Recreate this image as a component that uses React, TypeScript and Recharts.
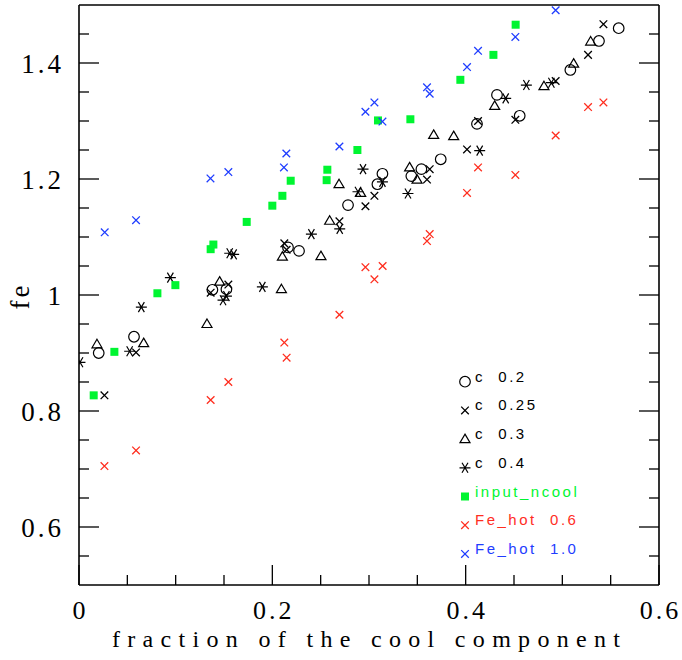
import React from 'react';
import { ScatterChart, Scatter, XAxis, YAxis, Legend } from 'recharts';

// [fraction of cool component, fe]
const c02 = [
  [0.0204, 0.9], [0.0569, 0.928], [0.138, 1.009], [0.1525, 1.01], [0.2162, 1.082], [0.2276, 1.076],
  [0.2783, 1.155], [0.3087, 1.191], [0.3139, 1.209], [0.3438, 1.205], [0.3542, 1.217], [0.3742, 1.234],
  [0.4117, 1.295], [0.4324, 1.345], [0.4559, 1.309], [0.5083, 1.388], [0.5379, 1.438], [0.5583, 1.46],
];
const c025 = [
  [0.0263, 0.827], [0.059, 0.901], [0.1362, 1.004], [0.1545, 1.018], [0.2124, 1.089], [0.2148, 1.078],
  [0.2694, 1.127], [0.2963, 1.153], [0.3056, 1.171], [0.36, 1.199], [0.3628, 1.217], [0.4014, 1.251],
  [0.4128, 1.3], [0.4514, 1.302], [0.4931, 1.369], [0.5266, 1.414], [0.5425, 1.467],
];
const c03 = [
  [0.0186, 0.915], [0.0669, 0.917], [0.1324, 0.95], [0.1455, 1.023], [0.2094, 1.01], [0.2104, 1.066],
  [0.2503, 1.067], [0.2593, 1.128], [0.269, 1.191], [0.2914, 1.176], [0.342, 1.22], [0.3497, 1.199],
  [0.3669, 1.276], [0.3876, 1.274], [0.43, 1.326], [0.481, 1.36], [0.5117, 1.399], [0.5293, 1.437],
];
const c04 = [
  [0.001, 0.884], [0.0524, 0.903], [0.0645, 0.979], [0.0945, 1.03], [0.149, 0.991], [0.1525, 0.998],
  [0.1559, 1.072], [0.16, 1.07], [0.1897, 1.014], [0.2404, 1.105], [0.2697, 1.114], [0.2886, 1.178],
  [0.2938, 1.217], [0.3139, 1.195], [0.3403, 1.175], [0.4145, 1.249], [0.4414, 1.339], [0.4628, 1.362],
  [0.4887, 1.366],
];
const inputNcool = [
  [0.0152, 0.827], [0.0366, 0.902], [0.0811, 1.003], [0.0997, 1.017], [0.1362, 1.079], [0.139, 1.087],
  [0.1735, 1.126], [0.2, 1.154], [0.2104, 1.171], [0.219, 1.197], [0.2562, 1.198], [0.2569, 1.216],
  [0.288, 1.25], [0.3093, 1.301], [0.3428, 1.303], [0.3945, 1.371], [0.4287, 1.414], [0.4517, 1.466],
];
const feHot06 = [
  [0.0263, 0.705], [0.059, 0.732], [0.1362, 0.819], [0.1545, 0.85], [0.2124, 0.918], [0.2148, 0.892],
  [0.2694, 0.966], [0.2963, 1.048], [0.3056, 1.027], [0.3141, 1.05], [0.36, 1.093], [0.3628, 1.105],
  [0.4014, 1.176], [0.4128, 1.22], [0.4514, 1.207], [0.4931, 1.275], [0.5266, 1.324], [0.5425, 1.332],
];
const feHot10 = [
  [0.0266, 1.108], [0.059, 1.129], [0.136, 1.201], [0.1545, 1.212], [0.212, 1.22], [0.2145, 1.244],
  [0.2694, 1.256], [0.2963, 1.316], [0.3056, 1.332], [0.3139, 1.299], [0.36, 1.358], [0.3628, 1.347],
  [0.4014, 1.393], [0.4128, 1.421], [0.4514, 1.445], [0.4931, 1.491],
];

const xTicks = [0, 0.05, 0.1, 0.15, 0.2, 0.25, 0.3, 0.35, 0.4, 0.45, 0.5, 0.55, 0.6];
const xMajor = [0, 0.2, 0.4, 0.6];
const xTickLabels = ['0', '0.2', '0.4', '0.6'];
const yTicks = [0.55, 0.6, 0.65, 0.7, 0.75, 0.8, 0.85, 0.9, 0.95, 1, 1.05, 1.1, 1.15, 1.2, 1.25, 1.3, 1.35, 1.4, 1.45];
const yMajor = [0.6, 0.8, 1, 1.2, 1.4];
const yTickLabels = ['0.6', '0.8', '1', '1.2', '1.4'];

const GREEN = '#00f531';
const RED = '#ff2e1f';
const BLUE = '#1f3dff';
const SERIF = '"Liberation Serif", "Times New Roman", serif';
const SANS = '"Liberation Sans", Arial, sans-serif';

const toPoints = (arr: number[][]) => arr.map(([x, y]) => ({ x, y }));
const majorIndex = (list: number[], v: number) => list.findIndex((m) => Math.abs(m - v) < 1e-6);

// marker glyphs
const Ring = ({ cx, cy }: any) => <circle cx={cx} cy={cy} r={5.3} fill="none" stroke="#000" strokeWidth={1.2} />;
const Cross = ({ cx, cy, color = '#000', s = 3.8 }: any) => (
  <path d={`M${cx - s},${cy - s}L${cx + s},${cy + s}M${cx - s},${cy + s}L${cx + s},${cy - s}`} stroke={color} strokeWidth={1.3} />
);
const Tri = ({ cx, cy }: any) => (
  <path d={`M${cx},${cy - 5}L${cx + 5},${cy + 3.5}L${cx - 5},${cy + 3.5}Z`} fill="none" stroke="#000" strokeWidth={1.2} />
);
const Star = ({ cx, cy }: any) => (
  <path
    d={`M${cx - 5.5},${cy}L${cx + 5.5},${cy}M${cx - 3},${cy - 5}L${cx + 3},${cy + 5}M${cx - 3},${cy + 5}L${cx + 3},${cy - 5}`}
    stroke="#000"
    strokeWidth={1.2}
  />
);
const Square = ({ cx, cy }: any) => <rect x={cx - 4} y={cy - 4} width={8} height={8} fill={GREEN} />;

const legendRows = [
  { label: 'c  0.2', color: '#000', Mark: Ring },
  { label: 'c  0.25', color: '#000', Mark: Cross },
  { label: 'c  0.3', color: '#000', Mark: Tri },
  { label: 'c  0.4', color: '#000', Mark: Star },
  { label: 'input_ncool', color: GREEN, Mark: Square },
  { label: 'Fe_hot  0.6', color: RED, Mark: (p: any) => <Cross {...p} color={RED} /> },
  { label: 'Fe_hot  1.0', color: BLUE, Mark: (p: any) => <Cross {...p} color={BLUE} /> },
];

const LegendBox = () => (
  <svg width={220} height={210} style={{ display: 'block' }}>
    {legendRows.map((r, i) => {
      const y = 21.7 + i * 28.7;
      return (
        <g key={r.label}>
          <r.Mark cx={10} cy={y} />
          <text x={20} y={y} fill={r.color} fontFamily={SANS} fontSize={15} letterSpacing={2.5} style={{ whiteSpace: 'pre' }}>
            {r.label}
          </text>
        </g>
      );
    })}
  </svg>
);

const BottomTick = ({ x, y, payload }: any) => {
  const i = majorIndex(xMajor, payload.value);
  return (
    <g>
      <line x1={x} x2={x} y1={y} y2={y - (i >= 0 ? 20 : 10)} stroke="#000" strokeWidth={1.3} />
      {i >= 0 && (
        <text x={x + 1.5} y={y + 34} textAnchor="middle" fontFamily={SERIF} fontSize={26} letterSpacing={3} fill="#000">
          {xTickLabels[i]}
        </text>
      )}
    </g>
  );
};
const TopTick = ({ x, y, payload }: any) => {
  const i = majorIndex(xMajor, payload.value);
  return <line x1={x} x2={x} y1={y} y2={y + (i >= 0 ? 20 : 10)} stroke="#000" strokeWidth={1.3} />;
};
const LeftTick = ({ x, y, payload }: any) => {
  const i = majorIndex(yMajor, payload.value);
  return (
    <g>
      <line x1={x} x2={x + (i >= 0 ? 20 : 10)} y1={y} y2={y} stroke="#000" strokeWidth={1.3} />
      {i >= 0 && (
        <text x={x - 15} y={y + 9.5} textAnchor="end" fontFamily={SERIF} fontSize={27} letterSpacing={3} fill="#000">
          {yTickLabels[i]}
        </text>
      )}
    </g>
  );
};
const RightTick = ({ x, y, payload }: any) => {
  const i = majorIndex(yMajor, payload.value);
  return <line x1={x} x2={x - (i >= 0 ? 20 : 10)} y1={y} y2={y} stroke="#000" strokeWidth={1.3} />;
};

const axisLine = { stroke: '#000', strokeWidth: 1.6 };

export default function App() {
  return (
    <div style={{ position: 'absolute', left: 0, top: 0, background: '#fff' }}>
      <ScatterChart width={682} height={660} margin={{ top: 0, right: 0, bottom: 0, left: 0 }}>
        <XAxis
          type="number" dataKey="x" domain={[0, 0.6]} allowDataOverflow ticks={xTicks} interval={0}
          height={75} tickSize={0} tickMargin={0} tickLine={false} axisLine={axisLine} tick={BottomTick}
          label={{
            content: () => (
              <text x={366} y={647} textAnchor="middle" fontFamily={SERIF} fontSize={24} textLength={508} lengthAdjust="spacing" fill="#000">
                fraction of the cool component
              </text>
            ),
          }}
        />
        <XAxis
          xAxisId="top" orientation="top" type="number" domain={[0, 0.6]} allowDataOverflow ticks={xTicks} interval={0}
          height={5} tickSize={0} tickMargin={0} tickLine={false} axisLine={axisLine} tick={TopTick}
        />
        <YAxis
          type="number" dataKey="y" domain={[0.5, 1.5]} allowDataOverflow ticks={yTicks} interval={0}
          width={79} tickSize={0} tickMargin={0} tickLine={false} axisLine={axisLine} tick={LeftTick}
          label={{
            content: () => (
              <text x={29} y={296} transform="rotate(-90 29 296)" textAnchor="middle" fontFamily={SERIF} fontSize={27} letterSpacing={3} fill="#000">
                fe
              </text>
            ),
          }}
        />
        <YAxis
          yAxisId="right" orientation="right" type="number" domain={[0.5, 1.5]} allowDataOverflow ticks={yTicks} interval={0}
          width={23} tickSize={0} tickMargin={0} tickLine={false} axisLine={axisLine} tick={RightTick}
        />
        <Scatter name="c 0.2" data={toPoints(c02)} shape={(p: any) => <Ring cx={p.cx} cy={p.cy} />} isAnimationActive={false} />
        <Scatter name="c 0.25" data={toPoints(c025)} shape={(p: any) => <Cross cx={p.cx} cy={p.cy} />} isAnimationActive={false} />
        <Scatter name="c 0.3" data={toPoints(c03)} shape={(p: any) => <Tri cx={p.cx} cy={p.cy} />} isAnimationActive={false} />
        <Scatter name="c 0.4" data={toPoints(c04)} shape={(p: any) => <Star cx={p.cx} cy={p.cy} />} isAnimationActive={false} />
        <Scatter name="input_ncool" data={toPoints(inputNcool)} shape={(p: any) => <Square cx={p.cx} cy={p.cy} />} isAnimationActive={false} />
        <Scatter name="Fe_hot 0.6" data={toPoints(feHot06)} shape={(p: any) => <Cross cx={p.cx} cy={p.cy} color={RED} />} isAnimationActive={false} />
        <Scatter name="Fe_hot 1.0" data={toPoints(feHot10)} shape={(p: any) => <Cross cx={p.cx} cy={p.cy} color={BLUE} />} isAnimationActive={false} />
        <Legend
          layout="vertical" align="center" verticalAlign="middle"
          content={LegendBox}
          wrapperStyle={{ left: 455, top: 360, width: 220 }}
        />
      </ScatterChart>
    </div>
  );
}
